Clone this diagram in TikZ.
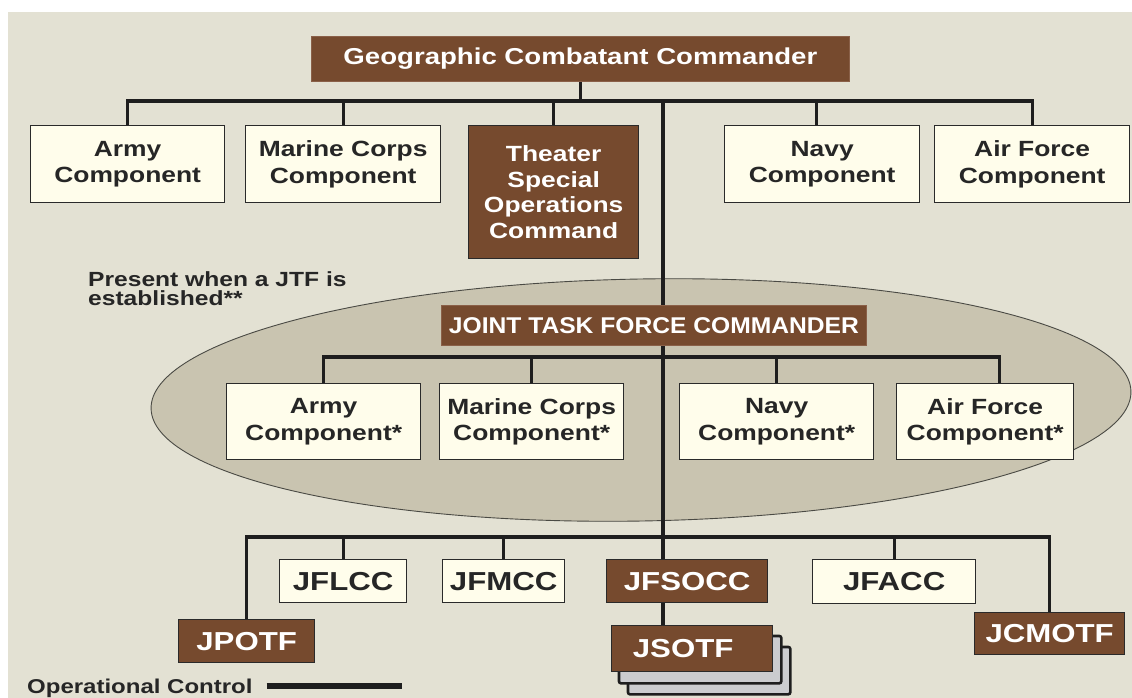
\documentclass[tikz,border=0pt]{standalone}
\usepackage{fontspec}
\newfontfamily\lab[FakeStretch=1.2]{Liberation Sans}
\newfontfamily\labn[FakeStretch=1.08]{Liberation Sans}
\usetikzlibrary{calc}
\pgfdeclarelayer{bg}
\pgfdeclarelayer{lines}
\pgfsetlayers{bg,lines,main}
\definecolor{brn}{HTML}{764A2E}
\definecolor{brnedge}{HTML}{8A6048}
\definecolor{cream}{HTML}{FFFDEB}
\definecolor{bgc}{HTML}{E3E1D3}
\definecolor{ellc}{HTML}{C9C4B0}
\definecolor{ellb}{HTML}{4A4A44}
\definecolor{lin}{HTML}{1E1E1E}
\definecolor{edge}{HTML}{2A2A2A}
\definecolor{txt}{HTML}{262626}
\definecolor{cardc}{HTML}{CBCCCF}
\tikzset{
  box/.style={draw=edge, line width=1.3pt, fill=cream, text=txt, align=center,
    inner sep=0pt, anchor=north west,
    font=\lab\bfseries\fontsize{22}{26.5}\selectfont},
  bbox/.style={box, fill=brn, text=white},
  topbox/.style={bbox, draw=brnedge, line width=0.8pt},
  big/.style={font=\lab\bfseries\fontsize{26}{28}\selectfont},
  conn/.style={draw=lin, line width=3.2pt, line join=miter},
  card/.style={draw=lin, line width=2.6pt, fill=cardc, rounded corners=2pt},
  legendline/.style={draw=lin, line width=5.5pt},
  plain/.style={text=txt, inner sep=0pt, align=left}
}
\begin{document}
\begin{tikzpicture}[x=1pt,y=-1pt]
\useasboundingbox (0,0) rectangle (1132,698);
% ---------- nodes ----------
\node[topbox, minimum width=538pt, minimum height=45pt, font=\lab\bfseries\fontsize{23}{25}\selectfont] (gcc) at (311,36) {Geographic Combatant Commander};
\node[box, minimum width=194pt, minimum height=77pt] (army) at (30,125) {Army\\Component};
\node[box, minimum width=195pt, minimum height=77pt] (marine) at (245,125) {Marine Corps\\Component};
\node[bbox, minimum width=170pt, minimum height=133pt, font=\lab\bfseries\fontsize{22}{25.7}\selectfont] (tsoc) at (468,125) {Theater\\Special\\Operations\\Command};
\node[box, minimum width=195pt, minimum height=77pt] (navy) at (724,125) {Navy\\Component};
\node[box, minimum width=195pt, minimum height=77pt] (af) at (934,125) {Air Force\\Component};

\node[plain, anchor=north west, font=\lab\bfseries\fontsize{20.5}{19.5}\selectfont] (note) at (88,271) {Present when a JTF is\\established**};

\node[topbox, minimum width=425pt, minimum height=40pt, font=\labn\bfseries\fontsize{22.8}{25}\selectfont] (jtf) at (441,305) {JOINT TASK FORCE COMMANDER};
\node[box, minimum width=194pt, minimum height=76pt] (jarmy) at (226,383) {Army\\Component*};
\node[box, minimum width=184pt, minimum height=76pt] (jmarine) at (439,383) {Marine Corps\\Component*};
\node[box, minimum width=194pt, minimum height=76pt] (jnavy) at (679,383) {Navy\\Component*};
\node[box, minimum width=177pt, minimum height=76pt] (jaf) at (896,383) {Air Force\\Component*};

\node[box, big, minimum width=127pt, minimum height=43pt] (jflcc) at (279,559) {JFLCC};
\node[box, big, minimum width=122pt, minimum height=43pt] (jfmcc) at (442,559) {JFMCC};
\node[bbox, big, minimum width=161pt, minimum height=43pt] (jfsocc) at (606,559) {JFSOCC};
\node[box, big, minimum width=163pt, minimum height=44pt] (jfacc) at (812,559) {JFACC};
\node[bbox, big, minimum width=136pt, minimum height=43pt] (jpotf) at (178,619) {JPOTF};
\node[bbox, big, minimum width=161pt, minimum height=46pt] (jsotf) at (611,625) {JSOTF\hspace*{18pt}};
\node[bbox, big, minimum width=150pt, minimum height=42pt] (jcmotf) at (974,612) {JCMOTF};

\node[plain, anchor=base west, font=\lab\bfseries\fontsize{20}{22}\selectfont] (oc) at (27,693) {Operational Control};

% ---------- helper coordinates ----------
\coordinate (tb) at (0,101);
\coordinate (jb) at (0,357);
\coordinate (bb) at (0,537);
\coordinate (sp) at (663,0);
\coordinate (navyd) at ($(navy.north)+(-6,0)$);
\coordinate (jafd) at ($(jaf.north)+(14,0)$);

% ---------- background ----------
\begin{pgfonlayer}{bg}
  \fill[white] (0,0) rectangle (1132,698);
  \fill[bgc] (8,12) rectangle (1132,698);
  \draw[fill=ellc, draw=ellb, line width=0.9pt, rotate around={1:(641,400)}]
    (641,400) ellipse [x radius=490pt, y radius=121pt];
\end{pgfonlayer}

% ---------- connectors ----------
\begin{pgfonlayer}{lines}
  % top level
  \draw[conn] (gcc.south) -- (gcc.south |- tb);
  \draw[conn] (army.north) -- (army.north |- tb) -- (af.north |- tb) -- (af.north);
  \draw[conn] (marine.north) -- (marine.north |- tb);
  \draw[conn] (tsoc.north) -- (tsoc.north |- tb);
  \draw[conn] (navyd) -- (navyd |- tb);
  % spine
  \draw[conn] (sp |- tb) -- (sp |- jfsocc.north);
  % JTF level
  \draw[conn] (jarmy.north) -- (jarmy.north |- jb) -- (jafd |- jb) -- (jafd);
  \draw[conn] (jmarine.north) -- (jmarine.north |- jb);
  \draw[conn] (jnavy.north) -- (jnavy.north |- jb);
  % bottom level
  \draw[conn] (jpotf.north) -- (jpotf.north |- bb) -- (jcmotf.north |- bb) -- (jcmotf.north);
  \draw[conn] (jflcc.north) -- (jflcc.north |- bb);
  \draw[conn] (jfmcc.north) -- (jfmcc.north |- bb);
  \draw[conn] (jfacc.north) -- (jfacc.north |- bb);
  \draw[conn] (sp |- jfsocc.south) -- (sp |- jsotf.north);
  % JSOTF stack
  \draw[card] ($(jsotf.north west)+(17,22)$) rectangle ($(jsotf.south east)+(17,22)$);
  \draw[card] ($(jsotf.north west)+(8,11)$) rectangle ($(jsotf.south east)+(8,11)$);
  % legend
  \draw[legendline] ($(oc.east)+(14,-2)$) -- ++(135,0);
\end{pgfonlayer}
\end{tikzpicture}
\end{document}
